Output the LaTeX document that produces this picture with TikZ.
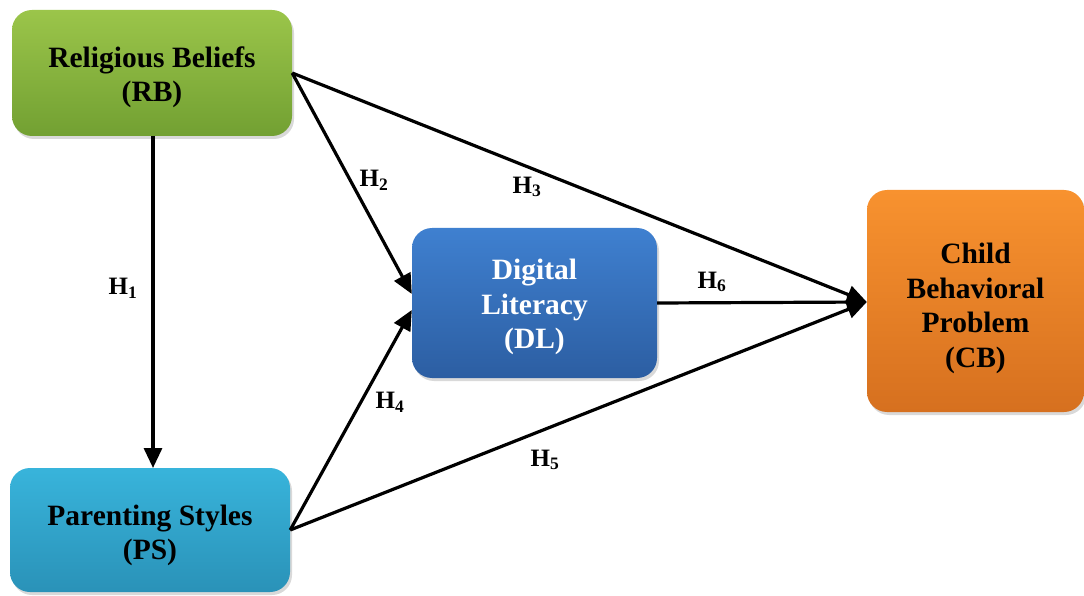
\documentclass[tikz,border=0pt]{standalone}
\usepackage{fontspec}
\setmainfont{Liberation Serif}
\usetikzlibrary{arrows.meta,shadows,calc}
\definecolor{rbtop}{HTML}{9BC54A}
\definecolor{rbbot}{HTML}{72A032}
\definecolor{pstop}{HTML}{38B4DB}
\definecolor{psbot}{HTML}{2A92B8}
\definecolor{dltop}{HTML}{3F80D0}
\definecolor{dlbot}{HTML}{2C5EA2}
\definecolor{cbtop}{HTML}{F8922F}
\definecolor{cbbot}{HTML}{D6701F}
\newcommand\toplift[1]{\rule{0pt}{#1}}
\begin{document}
\begin{tikzpicture}[x=1pt,y=-1pt,
  box/.style={rounded corners=20pt, align=center, inner sep=0pt,
    font=\fontsize{29.5}{34.5}\selectfont\bfseries,
    drop shadow={opacity=0.3,shadow xshift=2pt,shadow yshift=-3pt}},
  hyp/.style={font=\fontsize{25}{28}\selectfont\bfseries, inner sep=0pt},
  link/.style={line width=3.2pt, -{Triangle[length=20pt,width=18pt]}}]
\useasboundingbox (0,0) rectangle (1084,596);
\node[box, minimum width=280pt, minimum height=126pt, top color=rbtop, bottom color=rbbot] (RB) at (152,73) {\toplift{29pt}Religious Beliefs\\(RB)};
\node[box, minimum width=280pt, minimum height=124pt, top color=pstop, bottom color=psbot] (PS) at (150,530) {\toplift{31pt}Parenting Styles\\(PS)};
\node[box, minimum width=245pt, minimum height=150pt, top color=dltop, bottom color=dlbot, text=white] (DL) at (534.5,303) {\toplift{29pt}Digital\\Literacy\\(DL)};
\node[box, minimum width=217pt, minimum height=222pt, top color=cbtop, bottom color=cbbot] (CB) at (975.5,301) {\toplift{35pt}Child\\Behavioral\\Problem\\(CB)};
\coordinate (h1s) at (153,136);
\coordinate (h1e) at (153,468);
\coordinate (dlin2) at ($(DL.west)+(0,-9)$);
\coordinate (dlin4) at ($(DL.west)+(0,7)$);
\coordinate (cbin) at ($(CB.west)+(0,1)$);
\draw[link] (h1s) -- (h1e);
\draw[link] (RB.east) -- (dlin2);
\draw[link] (RB.east) -- (cbin);
\draw[link] (PS.east) -- (dlin4);
\draw[link] (PS.east) -- (cbin);
\draw[link] (DL.east) -- (cbin);
\node[hyp] (l1) at (123,288) {H\textsubscript{1}};
\node[hyp] (l2) at (374,180) {H\textsubscript{2}};
\node[hyp] (l3) at (527,187) {H\textsubscript{3}};
\node[hyp] (l4) at (390,402) {H\textsubscript{4}};
\node[hyp] (l5) at (545,460) {H\textsubscript{5}};
\node[hyp] (l6) at (712,282) {H\textsubscript{6}};
\end{tikzpicture}
\end{document}
